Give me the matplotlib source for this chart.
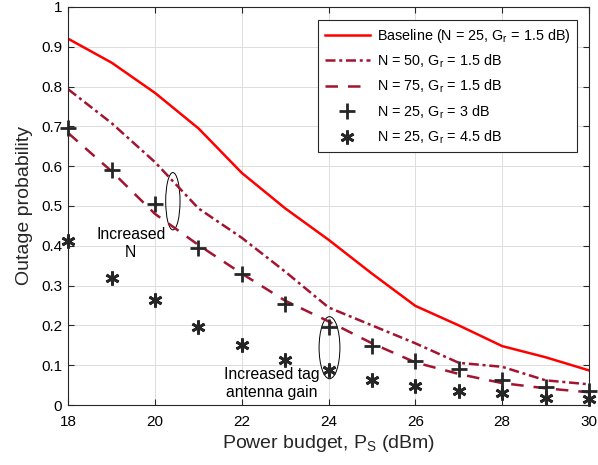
import matplotlib
matplotlib.use("Agg")
import matplotlib.pyplot as plt
from matplotlib.patches import Ellipse

plt.rcParams['font.family'] = ['Liberation Sans', 'DejaVu Sans']
plt.rcParams['mathtext.default'] = 'regular'

power = [18, 19, 20, 21, 22, 23, 24, 25, 26, 27, 28, 29, 30]
baseline = [0.92, 0.86, 0.784, 0.695, 0.583, 0.494, 0.415, 0.33, 0.249, 0.20, 0.148, 0.12, 0.087]
n50 = [0.793, 0.708, 0.61, 0.494, 0.42, 0.335, 0.245, 0.20, 0.155, 0.106, 0.096, 0.062, 0.052]
n75 = [0.683, 0.587, 0.48, 0.402, 0.33, 0.262, 0.21, 0.155, 0.107, 0.078, 0.055, 0.042, 0.032]
gr3 = [0.697, 0.59, 0.505, 0.395, 0.328, 0.253, 0.197, 0.148, 0.111, 0.09, 0.064, 0.046, 0.034]
gr45 = [0.412, 0.318, 0.264, 0.197, 0.15, 0.113, 0.088, 0.063, 0.048, 0.034, 0.03, 0.018, 0.015]

labels = [r'Baseline (N = 25, G$_r$ = 1.5 dB)', r'N = 50, G$_r$ = 1.5 dB',
          r'N = 75, G$_r$ = 1.5 dB', r'N = 25, G$_r$ = 3 dB', r'N = 25, G$_r$ = 4.5 dB']

fig = plt.figure(figsize=(5.98, 4.65), dpi=100)
ax = fig.add_axes([0.1142, 0.129, 0.8707, 0.856])

dred = '#A2142F'
mk = '#262626'
ax.plot(power, baseline, color='#FF0000', lw=1.8, label=labels[0])
ax.plot(power, n50, color=dred, lw=1.8, dashes=(4, 1.5, 1.2, 1.5), label=labels[1])
ax.plot(power, n75, color=dred, lw=1.8, dashes=(5, 4), label=labels[2])
ax.plot(power, gr3, ls='none', marker='+', ms=12, mew=2, color=mk, label=labels[3], clip_on=False)
ax.plot(power, gr45, ls='none', marker=(6, 2, 0), ms=10, mew=2, color=mk, label=labels[4], clip_on=False)

ax.add_patch(Ellipse((20.41, 0.512), 0.33, 0.144, fill=False, ec='black', lw=0.7))
ax.add_patch(Ellipse((24.02, 0.144), 0.48, 0.156, fill=False, ec='black', lw=0.7))
ax.text(19.44, 0.407, 'Increased\nN', ha='center', va='center', fontsize=11.3, linespacing=1.25)
ax.text(22.7, 0.053, 'Increased tag\nantenna gain', ha='center', va='center', fontsize=11.3, linespacing=1.25)

ax.set_xlim(18, 30)
ax.set_ylim(0, 1)
ax.set_xticks(range(18, 31, 2))
ax.set_yticks([i / 10 for i in range(11)])
ax.set_yticklabels(['0', '0.1', '0.2', '0.3', '0.4', '0.5', '0.6', '0.7', '0.8', '0.9', '1'])
ax.tick_params(direction='in', labelsize=11, length=4, color='#262626', top=True, right=True)
ax.tick_params(axis='x', pad=7)
ax.tick_params(axis='y', pad=4.5)
ax.grid(True, color='#DDDDDD', lw=0.7)
ax.set_axisbelow(True)
for s in ax.spines.values():
    s.set_color('#262626')
    s.set_linewidth(0.8)
ax.set_xlabel(r'Power budget, P$_S$ (dBm)', fontsize=14, color='#262626', labelpad=3)
ax.set_ylabel('Outage probability', fontsize=14, color='#262626', labelpad=6)

leg = ax.legend(loc='upper right', fontsize=10.4, handlelength=3.1, handletextpad=0.5,
                fancybox=False, framealpha=1, edgecolor='#262626', borderpad=0.45,
                labelspacing=0.55, borderaxespad=0, bbox_to_anchor=(0.977, 0.967))
leg.get_frame().set_linewidth(0.8)

fig.savefig('out.png', dpi=100)
